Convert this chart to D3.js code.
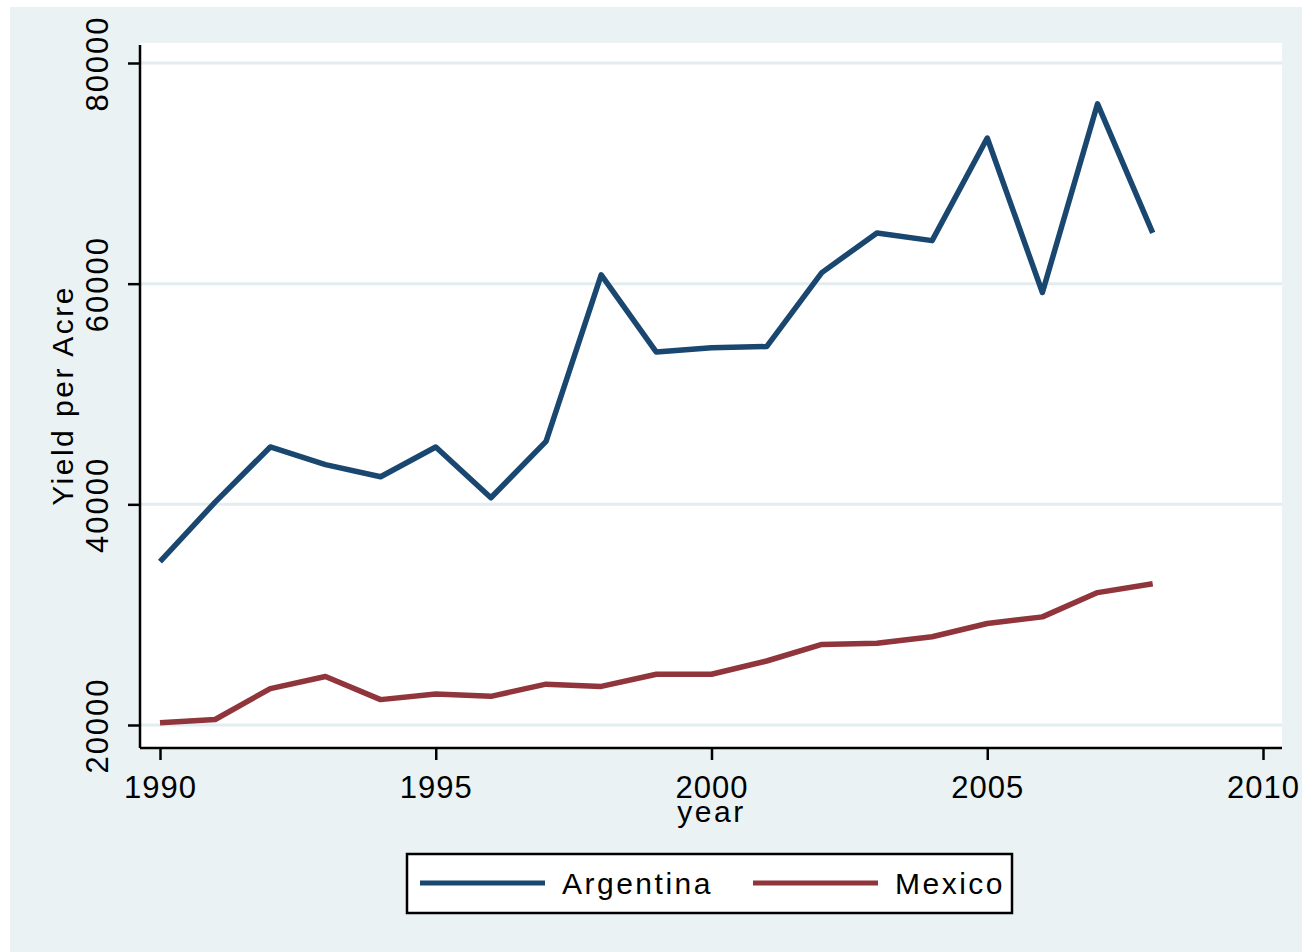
<!DOCTYPE html>
<html>
<head>
<meta charset="utf-8">
<script src="https://cdn.jsdelivr.net/npm/d3@7"></script>
<style>
  body { margin: 0; background: #fff; }
  text { font-family: "Liberation Sans", Arial, sans-serif; fill: #000; }
</style>
</head>
<body>
<div class="chart"></div>
<script>
// data
var years = [1990, 1991, 1992, 1993, 1994, 1995, 1996, 1997, 1998, 1999,
  2000, 2001, 2002, 2003, 2004, 2005, 2006, 2007, 2008];
var argentina = [34800, 40200, 45200, 43600, 42500, 45200, 40600, 45700, 60800, 53800,
  54200, 54300, 61000, 64600, 63900, 73200, 59200, 76300, 64600];
var mexico = [20200, 20500, 23300, 24400, 22300, 22800, 22600, 23700, 23500, 24600,
  24600, 25800, 27300, 27400, 28000, 29200, 29800, 32000, 32800];
var xTicks = [1990, 1995, 2000, 2005, 2010];
var yTicks = [20000, 40000, 60000, 80000];
var seriesNames = ['Argentina', 'Mexico'];

var colors = {
  'navy': '#1a476f',
  'maroon': '#90353b'
};

var width = 1302;
var height = 952;

var svg = d3.select('.chart').append('svg')
  .attr('width', width)
  .attr('height', height);

// graph region background
svg.append('rect')
  .attr('x', 10)
  .attr('y', 7)
  .attr('width', width - 10)
  .attr('height', height - 7)
  .attr('fill', '#eaf2f3');

// plot region
var plot = {left: 140, top: 43, right: 1282, bottom: 748};

svg.append('rect')
  .attr('x', plot.left)
  .attr('y', plot.top)
  .attr('width', plot.right - plot.left)
  .attr('height', plot.bottom - plot.top)
  .attr('fill', '#fff');

var x = d3.scaleLinear().domain([1990, 2010]).range([160, 1263]);
var y = d3.scaleLinear().domain([20000, 80000]).range([725, 63]);

// gridlines
svg.append('g')
  .selectAll('line')
  .data(yTicks)
  .enter()
  .append('line')
  .attr('x1', plot.left)
  .attr('x2', plot.right)
  .attr('y1', function(d) { return y(d); })
  .attr('y2', function(d) { return y(d); })
  .attr('stroke', '#e3ecee')
  .attr('stroke-width', 3);

// y axis
var yAxis = svg.append('g')
  .attr('transform', 'translate(' + plot.left + ',0)')
  .call(d3.axisLeft(y).tickValues(yTicks).tickSize(12).tickSizeOuter(0).tickFormat(d3.format('d')));

yAxis.select('.domain').remove();
yAxis.append('line')
  .attr('x1', 0).attr('x2', 0)
  .attr('y1', plot.top + 2).attr('y2', plot.bottom)
  .attr('stroke', '#000')
  .attr('stroke-width', 2.5);
yAxis.selectAll('.tick line').attr('stroke-width', 2.5);
yAxis.selectAll('.tick text')
  .attr('x', null).attr('dy', null)
  .attr('transform', 'translate(-32,0) rotate(-90)')
  .attr('text-anchor', 'middle')
  .style('font-size', '31px')
  .style('letter-spacing', '2px');

// x axis
var xAxis = svg.append('g')
  .attr('transform', 'translate(0,' + plot.bottom + ')')
  .call(d3.axisBottom(x).tickValues(xTicks).tickSize(12).tickFormat(d3.format('d')));

xAxis.select('.domain').remove();
xAxis.append('line')
  .attr('x1', plot.left).attr('x2', plot.right)
  .attr('y1', 0).attr('y2', 0)
  .attr('stroke', '#000')
  .attr('stroke-width', 2.5);
xAxis.selectAll('.tick line').attr('stroke-width', 2.5);
xAxis.selectAll('.tick text')
  .attr('y', 50).attr('dy', null)
  .style('font-size', '31px')
  .style('letter-spacing', '1px');

// axis titles
svg.append('text')
  .attr('transform', 'translate(73,' + ((plot.top + plot.bottom) / 2) + ') rotate(-90)')
  .attr('text-anchor', 'middle')
  .style('font-size', '30px')
  .style('letter-spacing', '2.5px')
  .text('Yield per Acre');

svg.append('text')
  .attr('x', x(2000))
  .attr('y', 822)
  .attr('text-anchor', 'middle')
  .style('font-size', '30px')
  .style('letter-spacing', '2.5px')
  .text('year');

// lines
var line = d3.line()
  .x(function(d, i) { return x(years[i]); })
  .y(function(d) { return y(d); });

var series = [argentina, mexico];
var seriesColors = [colors.navy, colors.maroon];

svg.append('g')
  .selectAll('path')
  .data(series)
  .enter()
  .append('path')
  .attr('d', line)
  .attr('fill', 'none')
  .attr('stroke', function(d, i) { return seriesColors[i]; })
  .attr('stroke-width', 5.5)
  .attr('stroke-linejoin', 'round');

// legend
var legend = svg.append('g');

legend.append('rect')
  .attr('x', 407)
  .attr('y', 854)
  .attr('width', 605)
  .attr('height', 59)
  .attr('fill', '#fff')
  .attr('stroke', '#000')
  .attr('stroke-width', 2.5);

var item = legend.selectAll('.legend')
  .data(seriesNames)
  .enter()
  .append('g')
  .attr('class', 'legend')
  .attr('transform', function(d, i) {
    return 'translate(' + (420 + i * 333) + ',883)';
  });

item.append('line')
  .attr('x1', 0).attr('x2', 125)
  .attr('y1', 0).attr('y2', 0)
  .attr('stroke', function(d, i) { return seriesColors[i]; })
  .attr('stroke-width', 5);

item.append('text')
  .attr('x', 142)
  .attr('y', 11)
  .style('font-size', '30px')
  .style('letter-spacing', '2.5px')
  .text(function(d) { return d; });
</script>
</body>
</html>
